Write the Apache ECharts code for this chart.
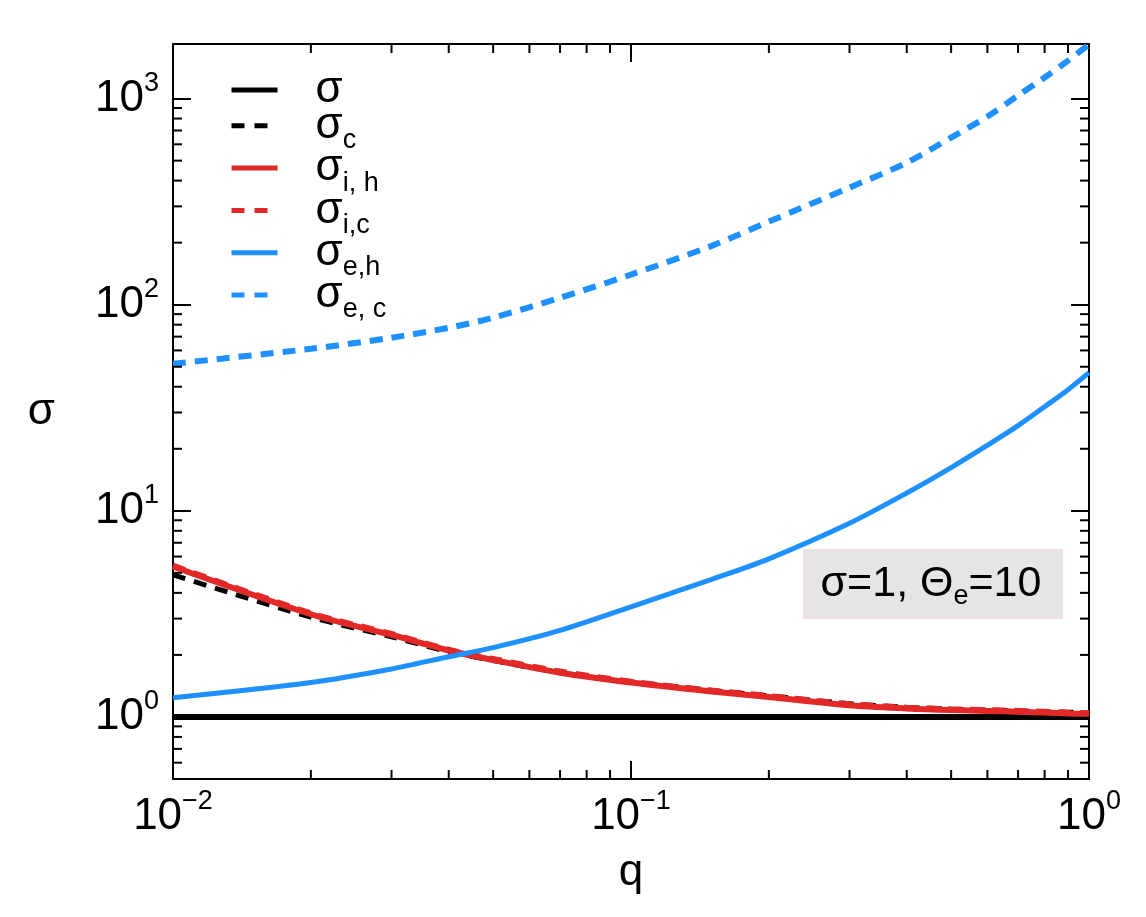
<!DOCTYPE html>
<html>
<head>
<meta charset="utf-8">
<script src="https://cdn.jsdelivr.net/npm/echarts@6/dist/echarts.min.js"></script>
<style>
  html, body { margin: 0; padding: 0; background: #fff; }
  #chart { width: 1146px; height: 917px; }
</style>
</head>
<body>
<div id="chart"></div>
<script>
// q grid the curves were read at
const qValues = [0.01, 0.02, 0.03, 0.04, 0.05, 0.07, 0.1, 0.15, 0.2, 0.3, 0.4, 0.5, 0.6, 0.7, 0.8, 0.9, 1.0];

// sigma values
const sigmaTotal = [1, 1, 1, 1, 1, 1, 1, 1, 1, 1, 1, 1, 1, 1, 1, 1, 1];
const sigmaC     = [4.89, 3.05, 2.45, 2.07, 1.88, 1.64, 1.48, 1.345, 1.265, 1.16, 1.115, 1.09, 1.08, 1.07, 1.06, 1.055, 1.05];
const sigmaIH    = [5.37, 3.15, 2.50, 2.10, 1.89, 1.64, 1.47, 1.33, 1.25, 1.14, 1.10, 1.08, 1.07, 1.06, 1.05, 1.04, 1.035];
const sigmaIC    = [5.45, 3.20, 2.54, 2.13, 1.92, 1.67, 1.49, 1.35, 1.27, 1.16, 1.115, 1.095, 1.085, 1.075, 1.065, 1.055, 1.05];
const sigmaEH    = [1.24, 1.47, 1.71, 1.96, 2.17, 2.63, 3.42, 4.65, 5.85, 8.7, 12.2, 16.2, 20.8, 25.9, 32, 38.7, 46.8];
const sigmaEC    = [51.7, 61.1, 69.2, 77.3, 86.5, 108, 140, 193, 253, 370, 489, 647, 818, 1035, 1265, 1529, 1829];

// axis ranges and ticks
const xMin = 0.01, xMax = 1;
const yMin = 0.5, yMax = 1840;
const xMinorTicks = [0.02, 0.03, 0.04, 0.05, 0.06, 0.07, 0.08, 0.09, 0.2, 0.3, 0.4, 0.5, 0.6, 0.7, 0.8, 0.9];
const yMinorTicks = [0.6, 0.7, 0.8, 0.9, 2, 3, 4, 5, 6, 7, 8, 9, 20, 30, 40, 50, 60, 70, 80, 90, 200, 300, 400, 500, 600, 700, 800, 900];

// legend names -> subscript text
const legendNames = ['sigma', 'sigma_c', 'sigma_ih', 'sigma_ic', 'sigma_eh', 'sigma_ec'];
const legendSubs  = ['', 'c', 'i, h', 'i,c', 'e,h', 'e, c'];
const legendDashed = [false, true, false, true, false, true];

const FONT = '"Liberation Sans", Arial, Helvetica, sans-serif';
const RED = '#e32828';
const BLUE = '#1e90ff';

const toPairs = (ys) => qValues.map((q, i) => [q, ys[i]]);

// 10^n labels with a raised exponent
const powLabel = (value) => {
  const lg = Math.log10(value);
  const e = Math.round(lg);
  if (Math.abs(lg - e) > 1e-6) return '';
  return '{b|10}{s|' + (e < 0 ? '\u2212' + (-e) : e) + '}';
};
const powRich = {
  b: { fontSize: 44, fontFamily: FONT, color: '#000', lineHeight: 48 },
  s: { fontSize: 27, fontFamily: FONT, color: '#000', lineHeight: 48, padding: [0, 0, 30, 0] }
};

const chart = echarts.init(document.getElementById('chart'));

const lineSeries = (name, data, color, width, dashed) => ({
  name: name,
  type: 'line',
  data: toPairs(data),
  xAxisIndex: 0,
  yAxisIndex: 0,
  symbol: 'none',
  smooth: 0.3,
  lineStyle: { color: color, width: width, type: dashed ? [13, 9] : 'solid', cap: 'butt' },
  itemStyle: { color: color },
  z: 3
});

// minor ticks drawn on both sides through the axis scales
const yMinorSeries = {
  type: 'custom',
  xAxisIndex: 0,
  yAxisIndex: 0,
  silent: true,
  data: yMinorTicks.map(v => [xMin, v]),
  renderItem: (params, api) => {
    const v = api.value(1);
    const l = api.coord([xMin, v]);
    const r = api.coord([xMax, v]);
    const st = { stroke: '#000', lineWidth: 2 };
    return {
      type: 'group',
      children: [
        { type: 'line', shape: { x1: l[0], y1: l[1], x2: l[0] + 9, y2: l[1] }, style: st },
        { type: 'line', shape: { x1: r[0] - 9, y1: r[1], x2: r[0], y2: r[1] }, style: st }
      ]
    };
  },
  z: 5
};
const xMinorSeries = {
  type: 'custom',
  xAxisIndex: 0,
  yAxisIndex: 0,
  silent: true,
  data: xMinorTicks.map(q => [q, yMin]),
  renderItem: (params, api) => {
    const q = api.value(0);
    const b = api.coord([q, yMin]);
    const t = api.coord([q, yMax]);
    const st = { stroke: '#000', lineWidth: 2 };
    return {
      type: 'group',
      children: [
        { type: 'line', shape: { x1: b[0], y1: b[1], x2: b[0], y2: b[1] - 9 }, style: st },
        { type: 'line', shape: { x1: t[0], y1: t[1], x2: t[0], y2: t[1] + 9 }, style: st }
      ]
    };
  },
  z: 5
};

const axisCommon = {
  axisLine: { show: true, lineStyle: { color: '#000', width: 2 } },
  axisTick: { show: true, inside: true, length: 18, lineStyle: { color: '#000', width: 2 } },
  splitLine: { show: false },
  minorTick: { show: false }
};

const option = {
  animation: false,
  backgroundColor: '#fff',
  grid: { left: 173, right: 57, top: 44, bottom: 138 },
  xAxis: [
    Object.assign({
      type: 'log', logBase: 10, min: xMin, max: xMax, position: 'bottom',
      name: 'q', nameLocation: 'middle', nameGap: 60,
      nameTextStyle: { fontSize: 44, fontFamily: FONT, color: '#000' },
      axisLabel: { margin: 14, formatter: powLabel, rich: powRich, color: '#000' }
    }, axisCommon),
    Object.assign({
      type: 'log', logBase: 10, min: xMin, max: xMax, position: 'top',
      axisLabel: { show: false }
    }, axisCommon)
  ],
  yAxis: [
    Object.assign({
      type: 'log', logBase: 10, min: yMin, max: yMax, position: 'left',
      name: '\u03c3', nameLocation: 'middle', nameRotate: 0, nameGap: 118,
      nameTextStyle: { fontSize: 44, fontFamily: FONT, color: '#000' },
      axisLabel: { margin: 14, formatter: powLabel, rich: powRich, color: '#000' }
    }, axisCommon),
    Object.assign({
      type: 'log', logBase: 10, min: yMin, max: yMax, position: 'right',
      axisLabel: { show: false }
    }, axisCommon)
  ],
  legend: {
    data: legendNames.map((n, i) => legendDashed[i]
      ? { name: n, lineStyle: { type: [13, 10] } }
      : { name: n }),
    orient: 'vertical',
    left: 229,
    top: 68,
    padding: 0,
    itemWidth: 46,
    itemHeight: 6,
    itemGap: -14.7,
    selectedMode: false,
    lineStyle: { width: 5, cap: 'butt' },
    itemStyle: { opacity: 0 },
    formatter: (name) => {
      const sub = legendSubs[legendNames.indexOf(name)];
      return '{m|\u03c3}' + (sub ? '{s|' + sub + '}' : '');
    },
    textStyle: {
      color: '#000',
      rich: {
        m: { fontSize: 44, fontFamily: FONT, color: '#000', lineHeight: 36, padding: [0, 0, 0, 33] },
        s: { fontSize: 27, fontFamily: FONT, color: '#000', lineHeight: 36, padding: [30, 0, 0, 0] }
      }
    }
  },
  graphic: [
    {
      type: 'rect', left: 803, top: 549, z: 10,
      shape: { width: 259, height: 69 },
      style: { fill: '#e5e5e5', stroke: '#f7dcdc', lineWidth: 1 }
    },
    {
      type: 'text', x: 931, y: 584, z: 11,
      style: {
        text: '{a|\u03c3=1, \u0398}{e|e}{a|=10}',
        align: 'center', verticalAlign: 'middle',
        rich: {
          a: { fontSize: 43, fontFamily: FONT, fill: '#000', lineHeight: 44 },
          e: { fontSize: 27, fontFamily: FONT, fill: '#000', lineHeight: 44, padding: [26, 0, 0, 0] }
        }
      }
    }
  ],
  series: [
    lineSeries('sigma', sigmaTotal, '#000', 6, false),
    lineSeries('sigma_c', sigmaC, '#000', 5, true),
    lineSeries('sigma_ih', sigmaIH, RED, 6, false),
    lineSeries('sigma_ic', sigmaIC, RED, 5, true),
    lineSeries('sigma_eh', sigmaEH, BLUE, 5, false),
    lineSeries('sigma_ec', sigmaEC, BLUE, 6, true),
    yMinorSeries,
    xMinorSeries
  ]
};

chart.setOption(option);
</script>
</body>
</html>
